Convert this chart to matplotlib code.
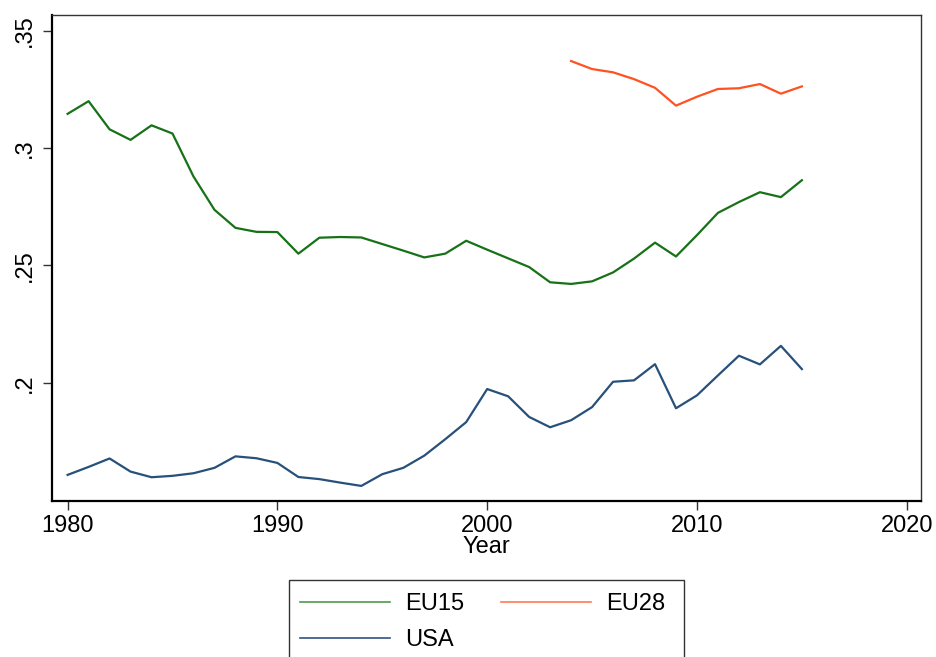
import matplotlib
matplotlib.use('Agg')
import matplotlib.pyplot as plt
from matplotlib.patches import Rectangle
from matplotlib.ticker import FuncFormatter

plt.rcParams['font.family'] = ['Liberation Sans', 'DejaVu Sans']

# Data
years = list(range(1980, 2016))
eu15 = [0.3146, 0.3200, 0.3080, 0.3035, 0.3097, 0.3062, 0.2879, 0.2737, 0.2660, 0.2643,
        0.2642, 0.2550, 0.2618, 0.2621, 0.2619, 0.2591, 0.2563, 0.2534, 0.2550, 0.2605,
        0.2567, 0.2530, 0.2493, 0.2428, 0.2421, 0.2432, 0.2470, 0.2529, 0.2597, 0.2538,
        0.2629, 0.2724, 0.2770, 0.2812, 0.2791, 0.2863]
years_eu28 = list(range(2004, 2016))
eu28 = [0.3371, 0.3337, 0.3323, 0.3294, 0.3257, 0.3181, 0.3219, 0.3252, 0.3255, 0.3273,
        0.3232, 0.3263]
usa = [0.1607, 0.1641, 0.1677, 0.1621, 0.1597, 0.1603, 0.1614, 0.1637, 0.1686, 0.1678,
       0.1658, 0.1598, 0.1589, 0.1574, 0.1560, 0.1610, 0.1637, 0.1689, 0.1759, 0.1832,
       0.1973, 0.1942, 0.1854, 0.1810, 0.1840, 0.1896, 0.2004, 0.2010, 0.2079, 0.1891,
       0.1946, 0.2031, 0.2115, 0.2078, 0.2157, 0.2058]

xticks = [1980, 1990, 2000, 2010, 2020]
yticks = [0.2, 0.25, 0.3, 0.35]

c_eu15 = '#177117'
c_eu28 = '#ff5220'
c_usa = '#27507a'

fig = plt.figure(figsize=(9.36, 6.57), dpi=100)
ax = fig.add_axes([0.0552, 0.2379, 0.9288, 0.7388])

ax.plot(years, eu15, color=c_eu15, lw=1.6)
ax.plot(years_eu28, eu28, color=c_eu28, lw=1.6)
ax.plot(years, usa, color=c_usa, lw=1.6)

ax.set_xlim(1979.24, 2020.68)
ax.set_ylim(0.1497, 0.3566)
ax.set_xticks(xticks)
ax.set_yticks(yticks)
ax.yaxis.set_major_formatter(FuncFormatter(lambda v, p: ('%g' % v).lstrip('0')))
ax.tick_params(axis='both', direction='out', length=6.5, width=1, labelsize=17, color='#333333')
ax.tick_params(axis='x', pad=4)
ax.tick_params(axis='y', pad=5)
for lab in ax.get_yticklabels():
    lab.set_rotation(90)
    lab.set_va('center')

ax.set_xlabel('Year', fontsize=17, labelpad=-1)

for s in ['left', 'bottom']:
    ax.spines[s].set_linewidth(1.6)
    ax.spines[s].set_color('black')
for s in ['top', 'right']:
    ax.spines[s].set_linewidth(1.0)
    ax.spines[s].set_color('#333333')

# Legend below the plot, framed box running off the bottom edge
handles = [
    plt.Line2D([], [], color='#4f9a4f', lw=1.2),
    plt.Line2D([], [], color='#2e5580', lw=1.2),
    plt.Line2D([], [], color='#ff7a50', lw=1.2),
]
fig.legend(handles, ['EU15', 'USA', 'EU28'], ncol=2, frameon=False,
           loc='upper left', bbox_to_anchor=(300 / 936, 1 - 593 / 657),
           borderaxespad=0, borderpad=0, fontsize=17, handlelength=3.8,
           handletextpad=0.65, columnspacing=1.55, labelspacing=0.6)
fig.patches.append(Rectangle((289 / 936, -0.05), (684 - 289) / 936, 0.05 + 1 - 580 / 657,
                             transform=fig.transFigure, fill=False, edgecolor='#333333',
                             lw=1.0, clip_on=False))

fig.savefig('out.png', dpi=100)
